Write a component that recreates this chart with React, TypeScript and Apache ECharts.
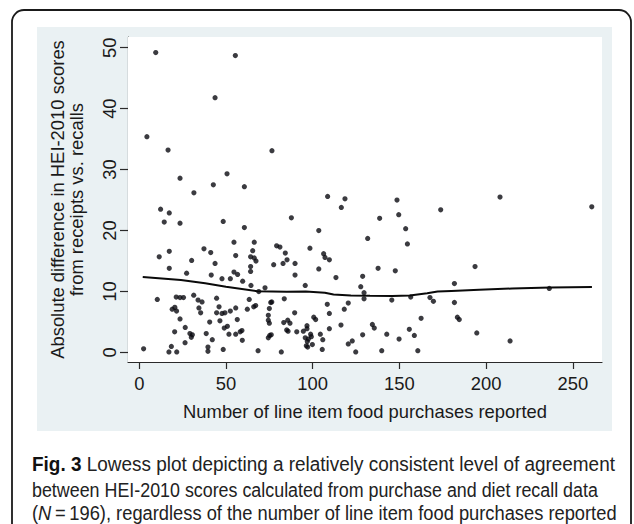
import React, { useEffect, useRef } from "react";
import * as echarts from "echarts";

// Scatter data: number of line item food purchases reported (x) vs absolute difference in HEI-2010 scores (y)
const purchases = [
  9.5, 55.4, 43.7, 4.4, 16.6, 76.5, 50.6, 23.5, 42.7, 60.6, 31.5, 108.6, 118.6,
  148.6, 149.6, 138.6, 153.6, 154.6, 131.7, 208, 173.8, 260.9, 137.7, 147.6, 193.6, 128.8, 127.7, 129.6, 129.6,
  181.7, 236.4, 156.5, 145.6, 167.6, 169.6, 181.7, 120.5, 162.5, 134.4, 135.5, 183.4, 184.5, 155.7, 142.7,
  128.8, 158.6, 149.8, 122.8, 194.6, 213.8, 124.8, 139.8, 160.6,
  12.3, 17.3, 14.4, 23.5, 37.3, 41.2, 17.3, 11.5, 30.2, 17.3, 27.3, 41.5, 10.4, 21.3, 23.5, 25.5, 31.4, 33.9,
  36.2, 19.0, 20.5, 21.5, 34.4, 35.4, 23.5, 40.6, 26.5, 29.2, 30.6, 30.0, 20.4, 38.6, 42.1, 26.4, 18.5, 2.5,
  17.1, 21.6, 39.6, 39.6,
  48.4, 60.6, 54.6, 66.3, 55.6, 65.4, 64.2, 66.3, 67.3, 79.2, 81.1, 84.2, 85.2, 82.9, 77.5, 43.7, 64.2, 64.2,
  54.6, 56.7, 47.7, 52.5, 59.6, 64.4, 72.5, 68.9, 44.6, 63.4, 76.4, 83.6, 46.0, 44.6, 47.7, 49.4, 52.5, 55.6,
  62.3, 66.0, 67.1, 75.8, 75.0, 74.4, 74.4, 75.0, 46.5, 56.5, 50.8, 49.0, 51.7, 55.6, 58.2, 59.2, 59.4, 75.2,
  76.1, 74.4, 83.3, 85.6, 85.0, 48.4, 68.5, 81.9,
  116.5, 87.7, 103.5, 98.4, 106.3, 107.1, 109.6, 89.8, 103.5, 89.8, 113.4, 95.7, 108.4, 118.2, 109.6, 89.6,
  100.6, 101.7, 86.9, 85.8, 90.8, 94.6, 96.7, 96.7, 98.8, 99.2, 104.4, 105.8, 109.6, 116.3, 95.7, 96.9, 97.5,
  96.3, 97.1, 99.8, 105.5, 120.5,
];
const absDiff = [
  49.2, 48.7, 41.8, 35.4, 33.2, 33.1, 29.3, 28.6, 27.5, 27.2, 26.2, 25.6, 25.2,
  25.0, 22.6, 22.0, 20.3, 17.8, 18.7, 25.5, 23.4, 23.9, 13.8, 13.4, 14.1, 12.5, 10.8, 9.8, 8.8,
  11.3, 10.5, 9.1, 8.6, 9.0, 8.4, 8.2, 8.1, 5.6, 4.6, 4.0, 5.8, 5.4, 3.8, 3.0,
  2.9, 2.8, 2.2, 1.9, 3.2, 1.9, 0.1, 0.3, 0.3,
  23.5, 22.9, 21.4, 21.2, 17.0, 16.4, 16.6, 15.7, 15.1, 13.8, 13.0, 12.7, 8.7, 9.1, 9.0, 9.0, 9.4, 8.6,
  8.3, 7.1, 7.4, 6.8, 7.3, 6.5, 5.5, 5.0, 4.1, 3.1, 2.9, 2.5, 3.4, 3.1, 2.1, 1.6, 1.0, 0.6,
  0.1, 0.1, 0.9, 0.2,
  21.5, 20.5, 18.1, 18.1, 15.9, 16.7, 15.7, 15.5, 15.0, 17.5, 17.3, 16.3, 15.2, 14.6, 14.4, 14.6, 14.1, 13.3,
  13.2, 12.8, 12.1, 12.1, 11.7, 11.0, 10.6, 10.0, 8.9, 8.7, 8.3, 8.8, 7.5, 6.5, 6.4, 6.5, 6.8, 7.3,
  7.1, 7.5, 7.7, 8.2, 7.2, 6.1, 5.3, 4.8, 5.2, 5.4, 4.3, 4.0, 3.0, 3.0, 3.4, 3.6, 2.0, 2.8,
  2.9, 2.4, 4.9, 5.3, 3.7, 0.5, 0.3, 0.1,
  23.8, 22.1, 20.0, 17.1, 16.2, 15.6, 15.2, 14.6, 13.7, 12.7, 12.3, 11.0, 7.9, 7.1, 6.4, 6.5,
  5.8, 5.4, 4.8, 3.5, 3.4, 3.5, 4.4, 3.9, 3.0, 2.6, 3.0, 2.1, 3.9, 4.5, 2.4, 1.8, 2.2,
  1.1, 0.9, 1.3, 0.5, 1.4,
];

// Lowess smoother
const lowessX = [2, 24, 38, 50, 68, 85, 96, 107, 112, 122, 133, 146, 156, 166, 172, 180, 196, 215, 237, 261];
const lowessY = [12.4, 11.9, 11.35, 10.8, 10.05, 9.95, 10.0, 9.8, 9.5, 9.35, 9.3, 9.27, 9.35, 9.7, 10.0, 10.1, 10.3, 10.5, 10.65, 10.75];

const xTicks = [0, 50, 100, 150, 200, 250];
const yTicks = [0, 10, 20, 30, 40, 50];

const xTitle = "Number of line item food purchases reported";
const yTitle = "Absolute difference in HEI-2010 scores\nfrom receipts vs. recalls";
// caption lines: [bold/italic lead, rest]
const captionLines = [
  { lead: "Fig. 3", leadStyle: "b", before: "", rest: " Lowess plot depicting a relatively consistent level of agreement" },
  { lead: "", leadStyle: "", before: "", rest: "between HEI-2010 scores calculated from purchase and diet recall data" },
  { lead: "N", leadStyle: "i", before: "(", rest: "\u2009=\u2009196), regardless of the number of line item food purchases reported" },
];
const captionWidths = [583, 566, 585];

const AXIS_FONT = "Liberation Sans, Arial, sans-serif";
const CAPTION_FONT = "Liberation Sans, Arial, sans-serif";
const CAP_SIZE = 21;

export default function App() {
  const ref = useRef<HTMLDivElement>(null);
  useEffect(() => {
    if (!ref.current) return;
    const chart = echarts.init(ref.current, undefined, { renderer: "svg" });
    const scatterData = purchases.map((x, i) => [x, absDiff[i]]);
    const lowessData = lowessX.map((x, i) => [x, lowessY[i]]);

    const ctx = document.createElement("canvas").getContext("2d")!;
    const measure = (t: string, style: string) => {
      ctx.font = `${style === "i" ? "italic " : ""}${style === "b" ? "bold " : ""}${CAP_SIZE}px ${CAPTION_FONT}`;
      return ctx.measureText(t).width;
    };
    const captionRich = {
      n: { fontFamily: CAPTION_FONT, fontSize: CAP_SIZE, fill: "#222" },
      b: { fontWeight: "bold", fontFamily: CAPTION_FONT, fontSize: CAP_SIZE, fill: "#111" },
      i: { fontStyle: "italic", fontFamily: CAPTION_FONT, fontSize: CAP_SIZE, fill: "#222" },
    };

    const captionGraphics = captionLines.map((ln, i) => {
      const w = measure(ln.before, "n") + measure(ln.lead, ln.leadStyle) + measure(ln.rest, "n");
      const s = w > 0 ? captionWidths[i] / w : 1;
      const parts: string[] = [];
      if (ln.before) parts.push(`{n|${ln.before}}`);
      if (ln.lead) parts.push(`{${ln.leadStyle}|${ln.lead}}`);
      parts.push(`{n|${ln.rest}}`);
      return {
        type: "text",
        z: 100,
        silent: true,
        x: 32,
        y: [464, 489, 513][i],
        scaleX: s,
        style: {
          text: parts.join(""),
          rich: captionRich,
          fontFamily: CAPTION_FONT,
          fontSize: CAP_SIZE,
          fill: "#222",
          verticalAlign: "middle",
        },
      };
    });

    chart.setOption({
      animation: false,
      backgroundColor: "#ffffff",
      grid: {
        left: 128,
        top: 37,
        width: 474,
        height: 325,
        show: true,
        backgroundColor: "#ffffff",
        borderWidth: 0,
        z: 2,
      },
      xAxis: {
        type: "value",
        min: -6.5,
        max: 266.8,
        name: xTitle,
        nameLocation: "middle",
        nameGap: 40,
        nameTextStyle: { fontFamily: AXIS_FONT, fontSize: 18.4, color: "#1a1a1a" },
        axisLine: { show: true, onZero: false, lineStyle: { color: "#2a2a2a", width: 1.2 } },
        axisTick: { show: true, length: 7, customValues: xTicks, lineStyle: { color: "#2a2a2a", width: 1.2 } },
        axisLabel: { customValues: xTicks, fontFamily: AXIS_FONT, fontSize: 18.4, color: "#1a1a1a", margin: 12 },
        splitLine: { show: false },
      },
      yAxis: {
        type: "value",
        min: -1.56,
        max: 51.75,
        name: yTitle,
        nameLocation: "middle",
        nameRotate: 90,
        nameGap: 42,
        nameTextStyle: { fontFamily: AXIS_FONT, fontSize: 18.4, color: "#1a1a1a", lineHeight: 19, align: "center" },
        axisLine: { show: true, onZero: false, lineStyle: { color: "#2a2a2a", width: 1.2 } },
        axisTick: { show: true, length: 8, customValues: yTicks, lineStyle: { color: "#2a2a2a", width: 1.2 } },
        axisLabel: { customValues: yTicks, rotate: 90, fontFamily: AXIS_FONT, fontSize: 18.4, color: "#1a1a1a", margin: 10 },
        splitLine: { show: true, lineStyle: { color: "#e4edf0", width: 1.5 } },
      },
      graphic: [
        {
          type: "rect",
          z: -10,
          silent: true,
          shape: { x: 37, y: 27, width: 575, height: 404 },
          style: { fill: "#eaf1f3" },
        },
        {
          type: "rect",
          z: 100,
          silent: true,
          shape: { x: 12, y: 10, width: 619, height: 540, r: 12 },
          style: { fill: "none", stroke: "#1a1a1a", lineWidth: 1.8 },
        },
        ...captionGraphics,
      ],
      series: [
        {
          type: "scatter",
          data: scatterData,
          symbol: "circle",
          symbolSize: 5.2,
          itemStyle: { color: "#0a0a10" },
          z: 3,
        },
        {
          type: "line",
          data: lowessData,
          showSymbol: false,
          symbol: "none",
          smooth: false,
          lineStyle: { color: "#0a0a0a", width: 2 },
          z: 4,
        },
      ],
    });
    return () => chart.dispose();
  }, []);
  return (
    <div
      ref={ref}
      style={{ position: "absolute", left: 0, top: 0, width: 634, height: 524, background: "#fff" }}
    />
  );
}
